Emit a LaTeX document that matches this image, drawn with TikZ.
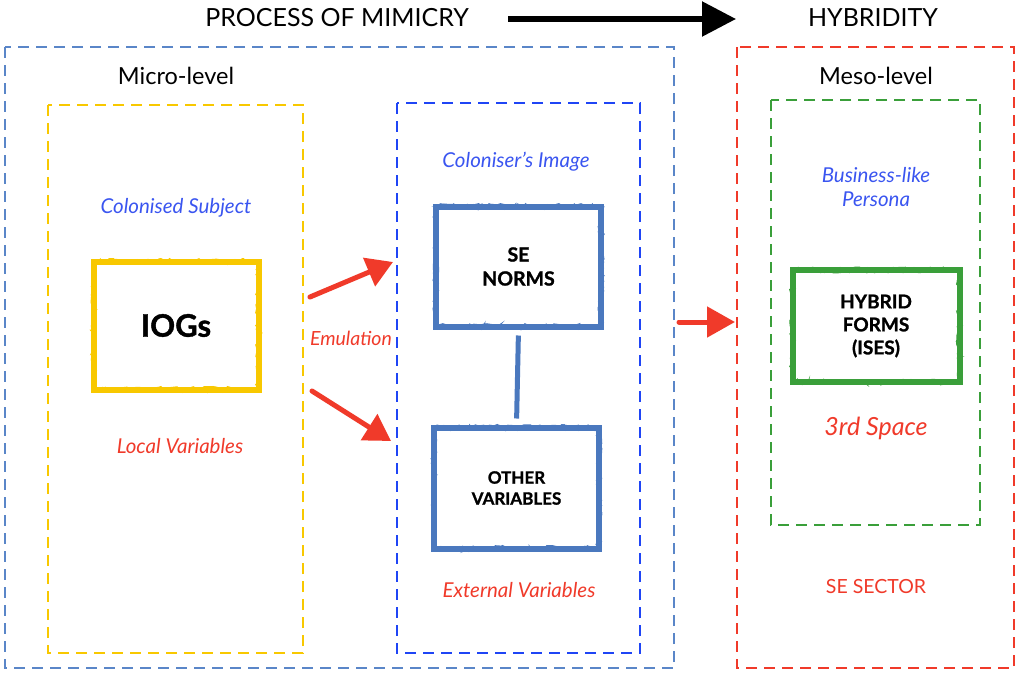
\documentclass[tikz,border=0pt]{standalone}
\usepackage{fontspec}
\setmainfont{Lato}
\newfontfamily\heavyfont{Lato}[FakeBold=1.2]
\usetikzlibrary{arrows.meta,decorations.pathmorphing}
\definecolor{outerblue}{HTML}{5A86C8}
\definecolor{innerblue}{HTML}{1F45F5}
\definecolor{boxblue}{HTML}{4A78BE}
\definecolor{goldc}{HTML}{F8C800}
\definecolor{redc}{HTML}{F03A2A}
\definecolor{greenc}{HTML}{3A9F3A}
\definecolor{labelblue}{HTML}{3A55F0}
\tikzset{
  dashbox/.style={line width=2.5pt, dash pattern=on 11pt off 7pt},
  brush/.style={draw=#1, line width=6pt, fill=white, inner sep=0pt, align=center,
    postaction={draw=#1, line width=2.5pt, decorate,
      decoration={random steps, segment length=5pt, amplitude=2.2pt}},
    postaction={draw=#1, line width=1pt, decorate,
      decoration={random steps, segment length=3pt, amplitude=3pt}}},
  bluelbl/.style={text=labelblue, font=\itshape\fontsize{20.5}{24}\selectfont, align=center},
  redlbl/.style={text=redc, font=\itshape\fontsize{20.5}{24}\selectfont, align=center},
  headlbl/.style={font=\fontsize{25}{29}\selectfont},
  levellbl/.style={font=\fontsize{23.5}{27}\selectfont},
  redarrow/.style={draw=redc, line width=5pt, line cap=round,
    -{Triangle[length=26pt,width=30pt]}},
}
\begin{document}
\begin{tikzpicture}[x=1pt,y=-1pt]
\useasboundingbox (0,0) rectangle (1017,680);

% title row
\node[headlbl] (mimicry) at (337,18) {PROCESS OF MIMICRY};
\node[headlbl] (hybridity) at (873,18) {HYBRIDITY};
\coordinate (ta) at (508,19);
\coordinate (tb) at (736,19);
\draw[line width=5.5pt, -{Triangle[length=34pt,width=34pt]}] (ta) -- (tb);

% dashed frames
\draw[dashbox, outerblue] (5,47) rectangle (674,668);
\draw[dashbox, redc] (737,47) rectangle (1014,668);
\draw[dashbox, goldc] (48,105) rectangle (303,653);
\draw[dashbox, innerblue] (397,103) rectangle (640,653);
\draw[dashbox, greenc] (771,100) rectangle (980,525);

\node[levellbl] (micro) at (176,76) {Micro-level};
\node[levellbl] (meso) at (876,76) {Meso-level};

% left column
\node[bluelbl] (colsub) at (176,208) {Colonised Subject};
\node[brush=goldc, minimum width=165pt, minimum height=128pt,
      font=\heavyfont\bfseries\fontsize{31}{35}\selectfont] (iogs) at (176,325.5) {IOGs};
\node[redlbl] (local) at (180,446) {Local Variables};

% emulation
\node[redlbl, font=\itshape\fontsize{19.5}{23}\selectfont] (emul) at (351,338) {Emulation};
\coordinate (e1s) at (310,297);
\coordinate (e1e) at (393,262);
\coordinate (e2s) at (312,391);
\coordinate (e2e) at (391,441);
\draw[redarrow] (e1s) -- (e1e);
\draw[redarrow] (e2s) -- (e2e);

% middle column
\node[bluelbl] (colimg) at (516,162) {Coloniser's Image};
\node[brush=boxblue, minimum width=165pt, minimum height=120pt,
      font=\heavyfont\bfseries\fontsize{19.5}{24}\selectfont] (norms) at (518.5,266.5) {SE\\NORMS};
\node[brush=boxblue, minimum width=165pt, minimum height=121pt,
      font=\heavyfont\bfseries\fontsize{17}{21}\selectfont] (other) at (516.5,488) {OTHER\\VARIABLES};
\draw[boxblue, line width=5pt, shorten <=6pt, shorten >=6pt] (norms.south) -- (other.north);
\node[redlbl] (ext) at (519,590) {External Variables};

% arrow to meso
\coordinate (m1s) at (679,322);
\coordinate (m1e) at (735,322);
\draw[redarrow, -{Triangle[length=28pt,width=30pt]}] (m1s) -- (m1e);

% right column
\node[bluelbl] (persona) at (876,187) {Business-like\\Persona};
\node[brush=greenc, minimum width=167pt, minimum height=112pt,
      font=\heavyfont\bfseries\fontsize{19}{23}\selectfont] (hybrid) at (876,326) {HYBRID\\FORMS\\(ISES)};
\node[redlbl, font=\itshape\fontsize{25}{29}\selectfont] (third) at (876,428) {3rd Space};
\node[text=redc, font=\fontsize{19.5}{23}\selectfont] (sector) at (876,587) {SE SECTOR};
\end{tikzpicture}
\end{document}
